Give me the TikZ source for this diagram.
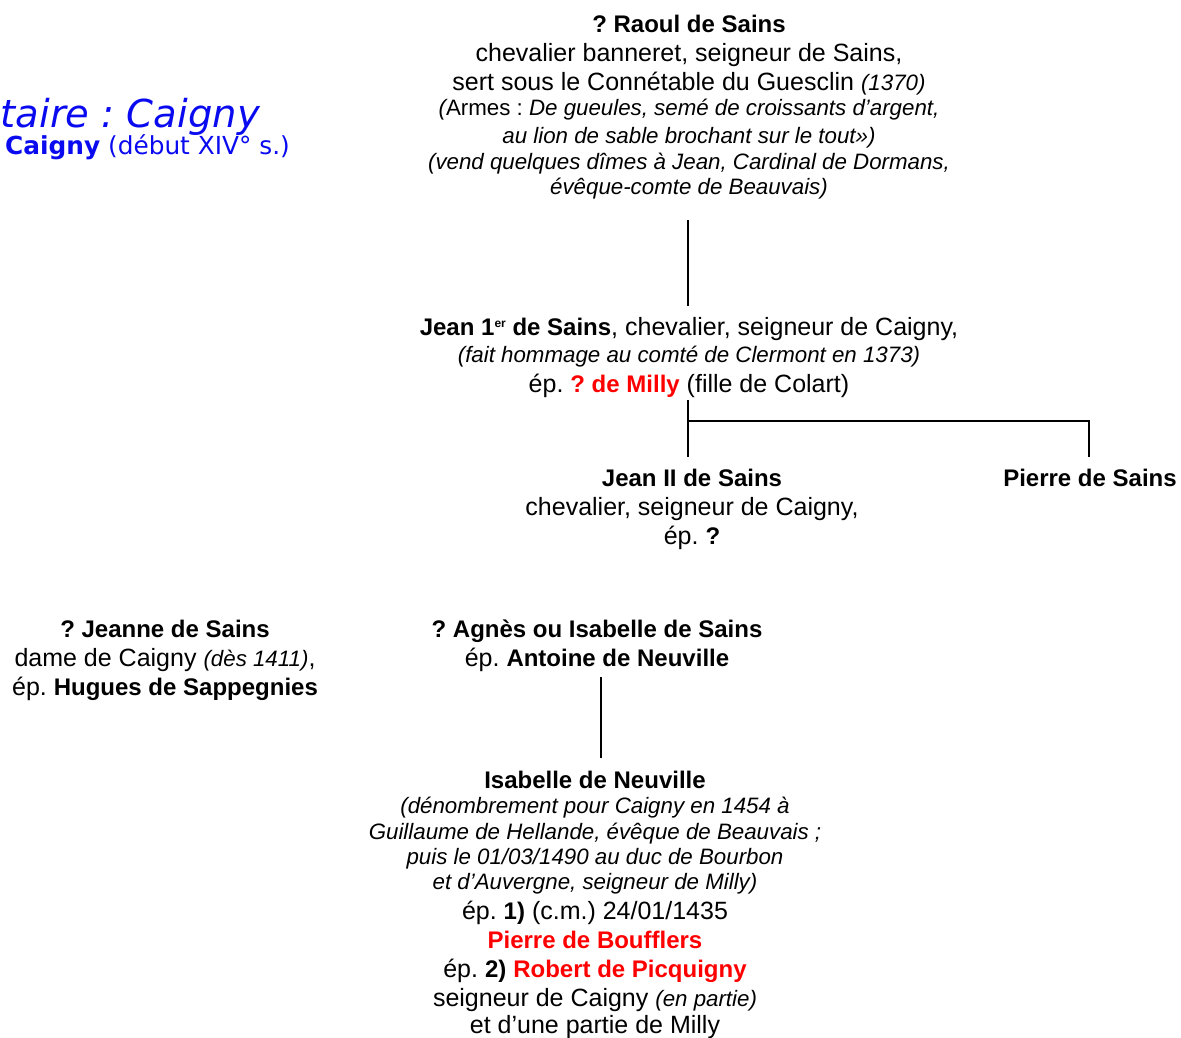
\documentclass[tikz,border=0pt]{standalone}
\usepackage{fontspec}
\setmainfont{Liberation Sans}
\newfontfamily\verd{DejaVu Sans}
\usepackage{xcolor}
\definecolor{rouge}{RGB}{255,0,0}
\definecolor{bleu}{RGB}{10,10,240}
\frenchspacing
\newcommand{\bd}[1]{{\fontsize{24}{28}\selectfont\bfseries #1}}
\newcommand{\rb}[1]{\textcolor{rouge}{\bd{#1}}}
\newcommand{\smit}[1]{{\fontsize{22.3}{25}\selectfont\itshape #1}}
\newcommand{\supr}[1]{\raisebox{8pt}{\fontsize{12}{12}\selectfont\bfseries #1}}
\tikzset{
  ln/.style={anchor=base, inner sep=0pt, font=\fontsize{25}{28}\selectfont},
  itl/.style={anchor=base, inner sep=0pt, font=\fontsize{22.3}{25}\selectfont\itshape},
  conn/.style={line width=2.5pt},
}
\begin{document}
\begin{tikzpicture}[x=1pt,y=-1pt]
\useasboundingbox (0,0) rectangle (1181,1037);
% blue heading (cut off at left)
\node[anchor=base east, inner sep=0pt, text=bleu, font=\verd\fontsize{38.5}{40}\selectfont\itshape] (titre) at (260,127) {taire : Caigny};
\node[anchor=base west, inner sep=0pt, text=bleu, font=\verd\fontsize{24.8}{28}\selectfont] (sous) at (5,154) {\textbf{Caigny} (début XIV° s.)};
% Raoul
\node[ln] (r1) at (689,32) {\bd{? Raoul de Sains}};
\node[ln] (r2) at (689,61) {chevalier banneret, seigneur de Sains,};
\node[ln] (r3) at (689,90) {sert sous le Connétable du Guesclin \smit{(1370)}};
\node[itl] (r4) at (689,115) {({\upshape Armes :} De gueules, semé de croissants d’argent,};
\node[itl] (r5) at (689,143) {au lion de sable brochant sur le tout»)};
\node[itl] (r6) at (689,169) {(vend quelques dîmes à Jean, Cardinal de Dormans,};
\node[itl] (r7) at (689,194) {évêque-comte de Beauvais)};
% Jean 1er
\node[ln] (j1) at (689,335) {\bd{Jean 1\supr{er} de Sains}, chevalier, seigneur de Caigny,};
\node[itl] (j2) at (689,362) {(fait hommage au comté de Clermont en 1373)};
\node[ln] (j3) at (689,392) {ép. \rb{? de Milly} (fille de Colart)};
% Jean II
\node[ln] (k1) at (692,486) {\bd{Jean II de Sains}};
\node[ln] (k2) at (692,515) {chevalier, seigneur de Caigny,};
\node[ln] (k3) at (692,544) {ép. \bd{?}};
% Pierre
\node[ln] (p1) at (1090,486) {\bd{Pierre de Sains}};
% Jeanne
\node[ln] (h1) at (165,637) {\bd{? Jeanne de Sains}};
\node[ln] (h2) at (165,666) {dame de Caigny \smit{(dès 1411)},};
\node[ln] (h3) at (165,695) {ép. \bd{Hugues de Sappegnies}};
% Agnes
\node[ln] (a1) at (597,637) {\bd{? Agnès ou Isabelle de Sains}};
\node[ln] (a2) at (597,666) {ép. \bd{Antoine de Neuville}};
% Isabelle
\node[ln] (i1) at (595,788) {\bd{Isabelle de Neuville}};
\node[itl] (i2) at (595,813) {(dénombrement pour Caigny en 1454 à};
\node[itl] (i3) at (595,839) {Guillaume de Hellande, évêque de Beauvais ;};
\node[itl] (i4) at (595,864) {puis le 01/03/1490 au duc de Bourbon};
\node[itl] (i5) at (595,889) {et d’Auvergne, seigneur de Milly)};
\node[ln] (i6) at (595,919) {ép. \bd{1)} (c.m.) 24/01/1435};
\node[ln] (i7) at (595,948) {\rb{Pierre de Boufflers}};
\node[ln] (i8) at (595,977) {ép. \bd{2)} \rb{Robert de Picquigny}};
\node[ln] (i9) at (595,1006) {seigneur de Caigny \smit{(en partie)}};
\node[ln] (i10) at (595,1033) {et d’une partie de Milly};
% connector end points
\coordinate (rDown) at (688,220);
\coordinate (jUp) at (688,306);
\coordinate (jDown) at (688,400);
\coordinate (fork) at (688,421);
\coordinate (kUp) at (688,457);
\coordinate (pCorner) at (1089,421);
\coordinate (pUp) at (1089,457);
\coordinate (aDown) at (601,677);
\coordinate (iUp) at (601,758);
% connectors
\draw[conn] (rDown) -- (jUp);
\draw[conn] (jDown) -- (kUp);
\draw[conn] (fork) -- (pCorner) -- (pUp);
\draw[conn] (aDown) -- (iUp);
\end{tikzpicture}
\end{document}
